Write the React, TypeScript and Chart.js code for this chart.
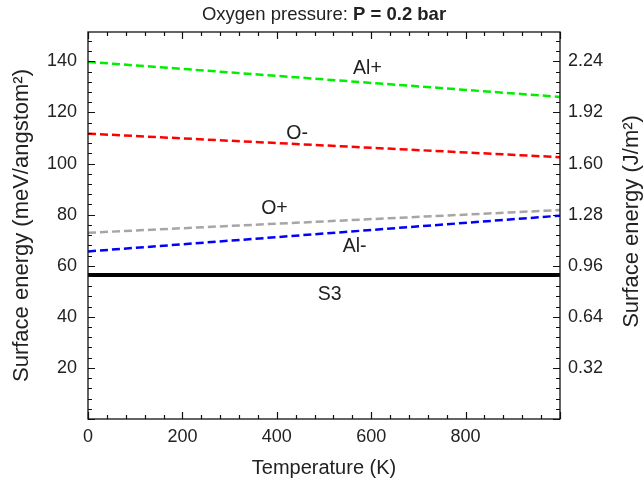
import React, { useEffect, useRef } from "react";
import { Chart, registerables } from "chart.js";

Chart.register(...registerables);

// ---- data ----
const temperatures = [0, 1000];
const alPlus = [139.8, 126.1];
const oMinus = [111.7, 102.5];
const oPlus = [72.9, 81.8];
const alMinus = [65.6, 79.6];
const s3 = [56.4, 56.4];

const seriesNames = ["Al+", "O-", "O+", "Al-", "S3"];
const labelX = [592, 443, 395, 565, 512];
const labelY = [137.3, 111.8, 82.5, 67.3, 48.8];

const xTicks = [0, 200, 400, 600, 800];
const yTicks = [20, 40, 60, 80, 100, 120, 140];
const rightTickLabels = ["0.32", "0.64", "0.96", "1.28", "1.60", "1.92", "2.24"];

const xMin = 0;
const xMax = 1000;
const yMin = 0;
const yMax = 151.5;
const xMajorStep = 200;
const xMinorStep = 40;
const yMajorStep = 20;
const yMinorStep = 4;

const FONT = "'Liberation Sans', Arial, Helvetica, sans-serif";
const TEXT = "#222";

const toPoints = (vals: number[]) => temperatures.map((t, i) => ({ x: t, y: vals[i] }));

const framePlugin = {
  id: "frameTicks",
  afterDatasetsDraw(chart: any) {
    const { ctx, chartArea, scales } = chart;
    const { left, right, top, bottom } = chartArea;
    const x = scales.x;
    const y = scales.y;
    ctx.save();
    ctx.strokeStyle = "#111";
    ctx.lineWidth = 1.3;
    ctx.strokeRect(left, top, right - left, bottom - top);
    ctx.lineWidth = 1.2;
    ctx.beginPath();
    for (let v = xMin; v <= xMax + 1e-6; v += xMinorStep) {
      const px = Math.round(x.getPixelForValue(v)) + 0.5;
      const len = Math.abs(v % xMajorStep) < 1e-6 ? 7 : 4;
      ctx.moveTo(px, bottom);
      ctx.lineTo(px, bottom - len);
      ctx.moveTo(px, top);
      ctx.lineTo(px, top + len);
    }
    for (let v = yMin; v <= yMax + 1e-6; v += yMinorStep) {
      const py = Math.round(y.getPixelForValue(v)) + 0.5;
      const len = Math.abs(v % yMajorStep) < 1e-6 ? 7 : 4;
      ctx.moveTo(left, py);
      ctx.lineTo(left + len, py);
      ctx.moveTo(right, py);
      ctx.lineTo(right - len, py);
    }
    ctx.stroke();
    ctx.restore();
  },
  afterDraw(chart: any) {
    const { ctx, scales, chartArea } = chart;
    const x = scales.x;
    const y = scales.y;
    ctx.save();
    ctx.fillStyle = TEXT;
    // series labels
    ctx.font = `19.5px ${FONT}`;
    ctx.textAlign = "center";
    ctx.textBaseline = "middle";
    seriesNames.forEach((name, i) => {
      ctx.fillText(name, x.getPixelForValue(labelX[i]), y.getPixelForValue(labelY[i]));
    });
    // main title with bold part
    const normal = "Oxygen pressure: ";
    const bold = "P = 0.2 bar";
    ctx.textBaseline = "alphabetic";
    ctx.textAlign = "left";
    ctx.font = `18.5px ${FONT}`;
    const w1 = ctx.measureText(normal).width;
    ctx.font = `bold 18.5px ${FONT}`;
    const w2 = ctx.measureText(bold).width;
    const cx = (chartArea.left + chartArea.right) / 2;
    const startX = cx - (w1 + w2) / 2;
    ctx.font = `18.5px ${FONT}`;
    ctx.fillText(normal, startX, 20);
    ctx.font = `bold 18.5px ${FONT}`;
    ctx.fillText(bold, startX + w1, 20);
    // right axis title, reading upward
    ctx.font = `22px ${FONT}`;
    ctx.textAlign = "center";
    ctx.textBaseline = "middle";
    ctx.translate(632, 221.5);
    ctx.rotate(-Math.PI / 2);
    ctx.fillText("Surface energy (J/m\u00B2)", 0, 0);
    ctx.restore();
  },
};

export default function App() {
  const canvasRef = useRef<HTMLCanvasElement | null>(null);

  useEffect(() => {
    document.body.style.margin = "0";
    const canvas = canvasRef.current;
    if (!canvas) return;
    Chart.defaults.font.family = FONT;
    const chart = new Chart(canvas, {
      type: "line",
      data: {
        datasets: [
          { label: "Al+", data: toPoints(alPlus), borderColor: "#00ee00", borderWidth: 2.5, borderDash: [8, 4] },
          { label: "O-", data: toPoints(oMinus), borderColor: "#ff0000", borderWidth: 2.5, borderDash: [8, 4] },
          { label: "O+", data: toPoints(oPlus), borderColor: "#a6a6a6", borderWidth: 2.5, borderDash: [8, 4] },
          { label: "Al-", data: toPoints(alMinus), borderColor: "#0000ff", borderWidth: 2.5, borderDash: [8, 4] },
          { label: "S3", data: toPoints(s3), borderColor: "#000000", borderWidth: 4 },
        ].map((d) => ({ ...d, pointRadius: 0, fill: false, tension: 0 })) as any,
      },
      options: {
        animation: false,
        responsive: true,
        maintainAspectRatio: false,
        layout: { padding: { top: 32, left: 0, right: 0, bottom: 0 } },
        plugins: { legend: { display: false }, tooltip: { enabled: false }, title: { display: false } },
        scales: {
          x: {
            type: "linear",
            min: xMin,
            max: xMax,
            afterBuildTicks: (s: any) => {
              s.ticks = xTicks.map((v) => ({ value: v }));
            },
            afterFit: (s: any) => {
              s.height = 66;
            },
            grid: { display: false, drawTicks: false },
            border: { display: false },
            ticks: { font: { size: 18, family: FONT }, color: TEXT, padding: 7, maxRotation: 0, autoSkip: false },
            title: {
              display: true,
              text: "Temperature (K)",
              font: { size: 20, family: FONT },
              color: TEXT,
              padding: { top: 0, bottom: 5 },
            },
          },
          y: {
            type: "linear",
            position: "left",
            min: yMin,
            max: yMax,
            afterBuildTicks: (s: any) => {
              s.ticks = yTicks.map((v) => ({ value: v }));
            },
            afterFit: (s: any) => {
              s.width = 88;
            },
            grid: { display: false, drawTicks: false },
            border: { display: false },
            ticks: { font: { size: 18, family: FONT }, color: TEXT, padding: 11 },
            title: {
              display: true,
              text: "Surface energy (meV/angstom\u00B2)",
              font: { size: 22, family: FONT },
              color: TEXT,
              padding: { top: 9, bottom: 0 },
            },
          },
          y2: {
            type: "linear",
            position: "right",
            min: yMin,
            max: yMax,
            afterBuildTicks: (s: any) => {
              s.ticks = yTicks.map((v) => ({ value: v }));
            },
            afterFit: (s: any) => {
              s.width = 84;
            },
            grid: { display: false, drawTicks: false },
            border: { display: false },
            ticks: {
              font: { size: 18, family: FONT },
              color: TEXT,
              padding: 8,
              callback: (v: any) => rightTickLabels[yTicks.indexOf(Number(v))] ?? "",
            },
          },
        },
      },
      plugins: [framePlugin],
    });
    return () => chart.destroy();
  }, []);

  return (
    <div style={{ width: 644, height: 485, position: "relative" }}>
      <canvas ref={canvasRef} />
    </div>
  );
}
